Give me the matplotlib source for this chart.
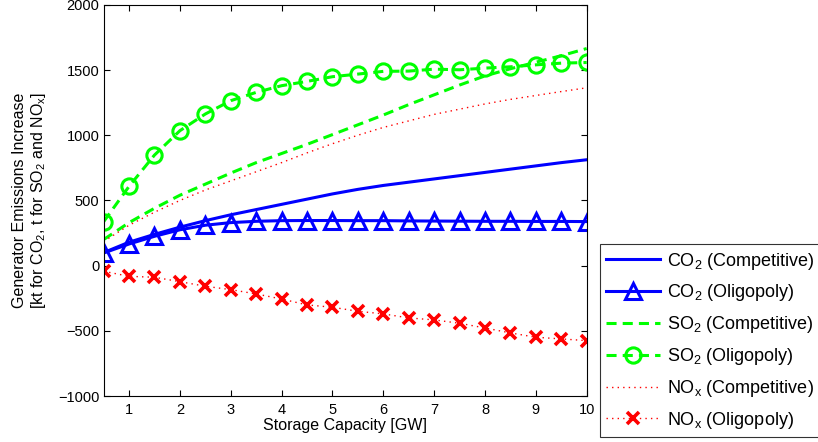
import numpy as np
import matplotlib
matplotlib.use("Agg")
import matplotlib.pyplot as plt

plt.rcParams['font.family'] = ['Liberation Sans', 'DejaVu Sans']
plt.rcParams['mathtext.fontset'] = 'custom'
plt.rcParams['mathtext.rm'] = 'Liberation Sans'
plt.rcParams['mathtext.it'] = 'Liberation Sans:italic'

# storage capacity [GW]
cap = [0.5, 1, 1.5, 2, 2.5, 3, 3.5, 4, 4.5, 5, 5.5, 6, 6.5, 7, 7.5, 8, 8.5, 9, 9.5, 10]

co2_comp = [100, 180, 240, 295, 345, 390, 430, 470, 510, 550, 585, 615, 640, 665, 690, 715, 740, 765, 790, 812]
co2_olig = [97, 166, 225, 275, 310, 330, 340, 345, 346, 346, 345, 345, 343, 342, 341, 340, 340, 339, 339, 338]
so2_comp = [200, 330, 440, 540, 625, 710, 790, 860, 930, 1005, 1080, 1155, 1235, 1310, 1385, 1455, 1510, 1560, 1610, 1665]
so2_olig = [337, 608, 848, 1035, 1163, 1265, 1329, 1380, 1413, 1449, 1469, 1490, 1492, 1507, 1502, 1515, 1525, 1540, 1553, 1558]
nox_comp = [185, 310, 410, 500, 580, 650, 720, 790, 865, 935, 1000, 1060, 1110, 1160, 1200, 1240, 1275, 1305, 1335, 1364]
nox_olig = [-43, -82, -89, -123, -158, -184, -217, -256, -301, -319, -350, -370, -401, -416, -442, -478, -516, -549, -562, -575]

fig = plt.figure(figsize=(8.18, 4.42), dpi=100)
ax = fig.add_axes([0.1267, 0.104, 0.5905, 0.885])

blue = '#0000ff'
green = '#00ff00'
red = '#ff0000'
dash = (0, (3.3, 2))
dots = (0, (1, 3))

ax.plot(cap, co2_comp, color=blue, lw=2.2, label=r'CO$_2$ (Competitive)')
ax.plot(cap, co2_olig, color=blue, lw=2.2, marker='^', ms=12, mfc='none', mew=2.2,
        label=r'CO$_2$ (Oligopoly)')
ax.plot(cap, so2_comp, color=green, lw=2.2, ls=dash, label=r'SO$_2$ (Competitive)')
ax.plot(cap, so2_olig, color=green, lw=2.2, ls=dash, marker='o', ms=11, mfc='none',
        mew=2.2, label=r'SO$_2$ (Oligopoly)')
ax.plot(cap, nox_comp, color=red, lw=1, ls=dots, label=r'NO$_\mathrm{x}$ (Competitive)')
ax.plot(cap, nox_olig, color=red, lw=1, ls=dots, marker='x', ms=8, mew=2.6,
        label=r'NO$_\mathrm{x}$ (Oligopoly)')

ax.set_xlim(0.5, 10)
ax.set_ylim(-1000, 2000)
ax.set_xticks(range(1, 11))
ax.set_yticks(range(-1000, 2001, 500))
ax.tick_params(direction='in', top=True, right=True, labelsize=10.5, length=4, pad=3)
ax.tick_params(axis='x', pad=5)
for s in ax.spines.values():
    s.set_linewidth(0.8)

ax.set_xlabel('Storage Capacity [GW]', fontsize=11.5, labelpad=1)
ax.set_ylabel('Generator Emissions Increase\n'
              r'[kt for CO$_2$, t for SO$_2$ and NO$_\mathrm{x}$]', fontsize=11.5, labelpad=7,
              linespacing=1.15)

leg = fig.legend(loc='lower left', bbox_to_anchor=(0.733, 0.011), fontsize=13,
                 handlelength=3.0, frameon=True, fancybox=False, edgecolor='black',
                 borderaxespad=0, labelspacing=0.6, handletextpad=0.4, borderpad=0.35)
leg.get_frame().set_linewidth(0.8)

fig.savefig('out.png', dpi=100)
